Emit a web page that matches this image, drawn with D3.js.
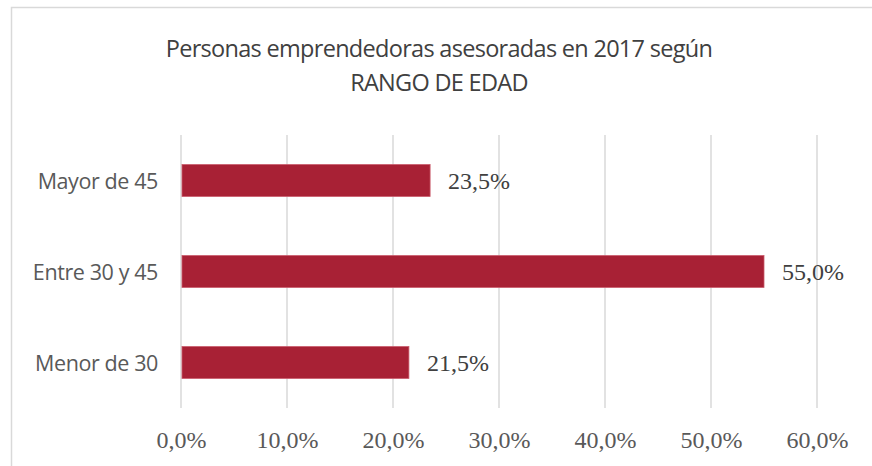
<!DOCTYPE html>
<html lang="es">
<head>
    <meta charset="utf-8">
    <title>Rango de edad</title>
    <script src="https://d3js.org/d3.v7.min.js"></script>
    <style>
        body { margin: 0; background: #fff; }
    </style>
</head>
<body>
<div id="chart"></div>
<script>
    // Data
    const categories = ["Mayor de 45", "Entre 30 y 45", "Menor de 30"];
    const values = [23.5, 55.0, 21.5];
    const ticks = [0, 10, 20, 30, 40, 50, 60];
    const titleLines = ["Personas emprendedoras asesoradas en 2017 según", "RANGO DE EDAD"];

    const W = 872, H = 466;
    const margin = {top: 135, right: 54, bottom: 58, left: 181};
    const width = W - margin.left - margin.right,
        height = H - margin.top - margin.bottom;

    const fmt = v => v.toFixed(1).replace(".", ",") + "%";

    const svg = d3.select("#chart")
        .append("svg")
        .attr("width", W)
        .attr("height", H);

    // outer chart border (cut off at right/bottom)
    svg.append("rect")
        .attr("x", 11.5).attr("y", 7.5)
        .attr("width", W + 20).attr("height", H + 20)
        .attr("fill", "none")
        .attr("stroke", "#d9d9d9")
        .attr("stroke-width", 1.5);

    // title
    svg.append("text")
        .attr("x", 439).attr("y", 57)
        .attr("text-anchor", "middle")
        .style("font-family", "'Open Sans', sans-serif")
        .style("font-size", "23.5px")
        .style("letter-spacing", "-0.7px")
        .attr("fill", "#404040")
        .selectAll("tspan")
        .data(titleLines)
        .join("tspan")
        .attr("x", 439)
        .attr("dy", (d, i) => i === 0 ? 0 : 34)
        .text(d => d);

    const g = svg.append("g")
        .attr("transform", `translate(${margin.left},${margin.top})`);

    const x = d3.scaleLinear()
        .domain([0, 60])
        .range([0, 636]);

    const y = d3.scaleBand()
        .domain(categories)
        .range([0, height])
        .paddingInner(0.65)
        .paddingOuter(0.325);

    // grid lines
    g.append("g")
        .selectAll("line")
        .data(ticks)
        .join("line")
        .attr("x1", d => x(d)).attr("x2", d => x(d))
        .attr("y1", 0).attr("y2", height)
        .attr("stroke", "#d9d9d9")
        .attr("stroke-width", 1.5);

    // x axis labels
    const xAxis = g.append("g")
        .attr("transform", `translate(0,${height})`)
        .call(d3.axisBottom(x).tickValues(ticks).tickFormat(fmt).tickSize(0).tickPadding(23));
    xAxis.select(".domain").remove();
    xAxis.selectAll("text")
        .style("font-family", "'Liberation Serif', serif")
        .style("font-size", "24px")
        .attr("fill", "#595959");

    // y axis labels
    const yAxis = g.append("g")
        .call(d3.axisLeft(y).tickSize(0).tickPadding(23));
    yAxis.select(".domain").remove();
    yAxis.selectAll("text")
        .attr("dy", "0.38em")
        .style("font-family", "'Open Sans', sans-serif")
        .style("font-size", "21.5px")
        .style("letter-spacing", "-0.4px")
        .attr("fill", "#595959");

    // bars
    g.selectAll(".bar")
        .data(values)
        .join("rect")
        .attr("class", "bar")
        .attr("x", x(0) + 1)
        .attr("y", (d, i) => y(categories[i]))
        .attr("width", d => x(d) - 1)
        .attr("height", y.bandwidth())
        .attr("fill", "#a82135")
        .attr("stroke", "#c95a6a")
        .attr("stroke-width", 0.8);

    // value labels
    g.selectAll(".lbl")
        .data(values)
        .join("text")
        .attr("class", "lbl")
        .attr("x", d => x(d) + 18)
        .attr("y", (d, i) => y(categories[i]) + y.bandwidth() / 2)
        .attr("dy", "0.35em")
        .style("font-family", "'Liberation Serif', serif")
        .style("font-size", "24px")
        .attr("fill", "#404040")
        .text(fmt);
</script>
</body>
</html>
